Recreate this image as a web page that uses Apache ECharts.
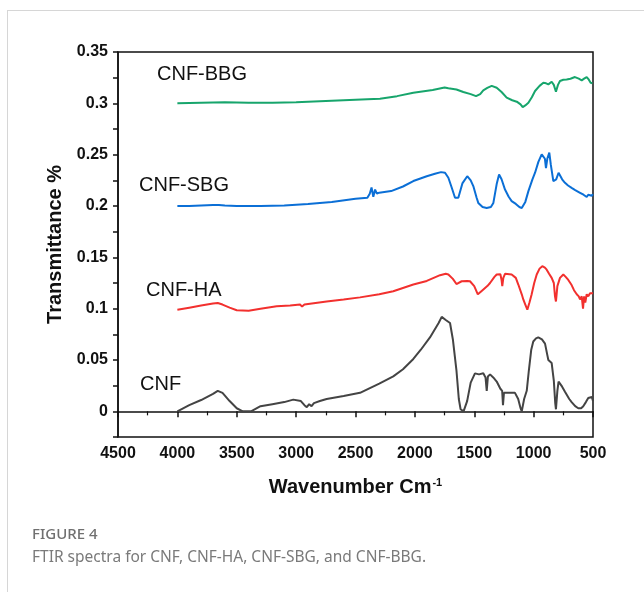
<!DOCTYPE html>
<html>
<head>
<meta charset="UTF-8" />
<title>FTIR spectra</title>
<script src="https://cdn.jsdelivr.net/npm/echarts@6/dist/echarts.min.js"></script>
<style>
    body { margin: 0; background: #fff; }
    #frame { position: absolute; left: 7px; top: 10px; width: 650px; height: 600px;
             border-top: 1px solid #d6d6d6; border-left: 1px solid #d6d6d6; }
    #main { position: absolute; left: 0; top: 0; width: 644px; height: 592px; }
</style>
</head>
<body>
<div id="frame"></div>
<div id="main"></div>
<script>
// wavenumbers (cm-1) and transmittance values
var cnfWave = [4000,3900,3800,3700,3660,3620,3560,3500,3450,3380,3300,3200,3100,3024,2960,2930,2910,2890,2870,2850,2800,2743,2600,2462,2300,2182,2100,2013,1950,1873,1800,1774,1740,1704,1680,1650,1630,1615,1590,1560,1530,1494,1460,1424,1405,1395,1385,1367,1340,1311,1280,1265,1258,1250,1200,1157,1130,1110,1100,1080,1058,1040,1020,1003,980,961,930,904,885,876,848,830,818,812,800,790,778,760,736,700,680,650,624,600,582,560,540,525,510,500];
var cnfT = [0.000,0.006,0.011,0.017,0.020,0.018,0.010,0.003,0.000,0.000,0.005,0.007,0.009,0.0114,0.010,0.006,0.004,0.007,0.005,0.008,0.010,0.012,0.015,0.018,0.027,0.034,0.041,0.051,0.060,0.072,0.086,0.092,0.089,0.086,0.070,0.040,0.012,0.002,0.000,0.010,0.028,0.037,0.036,0.037,0.033,0.020,0.034,0.036,0.033,0.029,0.022,0.020,0.006,0.018,0.018,0.018,0.012,0.003,0.000,0.012,0.020,0.040,0.060,0.068,0.071,0.072,0.070,0.066,0.055,0.050,0.047,0.030,0.008,0.002,0.020,0.029,0.029,0.024,0.019,0.012,0.009,0.005,0.003,0.003,0.005,0.009,0.013,0.012,0.014,0.010];

var haWave = [4000,3900,3800,3700,3660,3620,3560,3500,3400,3300,3164,3050,2967,2950,2930,2743,2600,2462,2300,2182,2013,1900,1788,1740,1718,1680,1650,1634,1606,1560,1536,1500,1470,1457,1440,1424,1390,1367,1330,1311,1280,1270,1264,1255,1241,1185,1150,1129,1100,1087,1070,1053,1035,1017,995,974,950,927,905,890,870,848,830,820,812,800,778,750,730,708,680,660,637,620,609,595,584,575,565,553,540,525,510,500];
var haT = [0.099,0.101,0.103,0.105,0.1055,0.104,0.101,0.0985,0.098,0.100,0.1024,0.103,0.104,0.102,0.104,0.107,0.109,0.111,0.114,0.117,0.1235,0.127,0.1326,0.134,0.1333,0.129,0.124,0.124,0.1267,0.127,0.1267,0.122,0.114,0.1135,0.117,0.1187,0.122,0.125,0.131,0.1333,0.1335,0.128,0.122,0.130,0.134,0.1333,0.130,0.1235,0.114,0.109,0.104,0.099,0.106,0.1138,0.125,0.1333,0.139,0.1414,0.140,0.138,0.134,0.130,0.125,0.112,0.107,0.122,0.130,0.1333,0.131,0.128,0.123,0.118,0.114,0.112,0.109,0.112,0.100,0.112,0.106,0.114,0.112,0.115,0.1144,0.115];

var sbgWave = [4000,3900,3800,3700,3650,3600,3500,3300,3100,2900,2700,2500,2400,2380,2365,2350,2335,2320,2300,2200,2100,2013,1900,1831,1780,1746,1730,1718,1690,1662,1634,1600,1559,1530,1508,1480,1466,1430,1395,1360,1339,1310,1291,1270,1241,1210,1185,1150,1120,1100,1070,1044,1010,988,960,932,918,905,896,885,868,855,834,810,790,778,760,736,710,680,650,609,580,553,540,525,510,500];
var sbgT = [0.200,0.200,0.2005,0.201,0.201,0.2005,0.200,0.200,0.2005,0.202,0.204,0.207,0.208,0.212,0.218,0.209,0.216,0.212,0.213,0.2145,0.219,0.2243,0.229,0.2314,0.233,0.2324,0.234,0.2275,0.218,0.208,0.208,0.222,0.229,0.225,0.2194,0.208,0.203,0.199,0.198,0.199,0.203,0.222,0.2307,0.226,0.216,0.209,0.2048,0.202,0.199,0.198,0.204,0.2145,0.226,0.2324,0.243,0.2503,0.252,0.246,0.237,0.246,0.252,0.240,0.2243,0.226,0.2324,0.232,0.226,0.2226,0.220,0.2177,0.2155,0.2129,0.211,0.2087,0.211,0.211,0.210,0.2115];

var bbgWave = [4000,3800,3600,3400,3200,3000,2800,2600,2400,2294,2150,2013,1850,1750,1718,1650,1592,1530,1485,1450,1424,1390,1353,1311,1270,1227,1180,1142,1110,1092,1070,1044,1015,988,950,918,895,876,848,830,812,795,778,750,722,690,652,620,595,575,553,535,520,505];
var bbgT = [0.300,0.3005,0.301,0.3005,0.3005,0.301,0.302,0.303,0.304,0.3045,0.307,0.3104,0.313,0.3155,0.3146,0.3135,0.311,0.309,0.307,0.309,0.3127,0.315,0.317,0.3152,0.311,0.3055,0.303,0.3016,0.299,0.2964,0.298,0.3006,0.306,0.312,0.317,0.320,0.3195,0.3185,0.321,0.318,0.3113,0.318,0.3218,0.323,0.3233,0.324,0.3256,0.324,0.3224,0.324,0.3256,0.323,0.320,0.3195];

var seriesNames = ['CNF', 'CNF-HA', 'CNF-SBG', 'CNF-BBG'];
var seriesColors = ['#444444', '#f2302e', '#0b6fd6', '#17a56c'];

function pairs(w, t) {
    var out = [];
    for (var i = 0; i < w.length; i++) out.push([w[i], t[i]]);
    return out;
}

var allData = [pairs(cnfWave, cnfT), pairs(haWave, haT), pairs(sbgWave, sbgT), pairs(bbgWave, bbgT)];
var labelPos = [[140, 385], [146, 291], [139, 186], [157, 75]];

var mySeries = [];
var myGraphic = [];
for (var i = 0; i < seriesNames.length; i++) {
    mySeries.push({
        name: seriesNames[i],
        type: 'line',
        data: allData[i],
        showSymbol: false,
        lineStyle: { color: seriesColors[i], width: 2 },
        itemStyle: { color: seriesColors[i] },
        animation: false
    });
    myGraphic.push({
        type: 'text', left: labelPos[i][0], top: labelPos[i][1] - 11,
        style: { text: seriesNames[i], font: '20px "Liberation Sans", Arial, sans-serif', fill: '#111' }
    });
}
myGraphic.push({
    type: 'text', left: 32, top: 527,
    style: { text: 'FIGURE 4', font: '500 15px "Noto Sans", sans-serif', fill: '#707070' }
});
myGraphic.push({
    type: 'text', left: 32, top: 550,
    style: { text: 'FTIR spectra for CNF, CNF-HA, CNF-SBG, and CNF-BBG.', font: '15.5px "Noto Sans", sans-serif', fill: '#7a7a7a' }
});

var axisFont = '"Liberation Sans", Arial, sans-serif';
var myChart = echarts.init(document.getElementById('main'));
myChart.setOption({
    animation: false,
    grid: { left: 118, right: 51, top: 52, bottom: 155, show: true, borderColor: '#111', borderWidth: 1.5 },
    xAxis: {
        type: 'value',
        inverse: true,
        min: 500, max: 4500, interval: 500,
        name: 'Wavenumber {s|Cm}{u|-1}',
        nameLocation: 'middle',
        nameGap: 40,
        nameTextStyle: {
            fontFamily: axisFont, fontWeight: 'bold', fontSize: 20, color: '#111',
            rich: {
                s: { fontFamily: axisFont, fontWeight: 'bold', fontSize: 20, color: '#111' },
                u: { fontFamily: axisFont, fontWeight: 'bold', fontSize: 11, color: '#111', verticalAlign: 'top', padding: [0, 0, 10, 1] }
            }
        },
        axisLine: { lineStyle: { color: '#111', width: 1.5 } },
        axisTick: { length: 6, lineStyle: { color: '#111', width: 1.5 } },
        minorTick: { show: true, splitNumber: 2, length: 4, lineStyle: { color: '#111', width: 1.2 } },
        axisLabel: {
            fontFamily: axisFont, fontWeight: 'bold', fontSize: 16, color: '#111', margin: 9,
            formatter: function(v) { return String(v); }
        },
        splitLine: { show: false }
    },
    yAxis: {
        type: 'value',
        min: -0.025, max: 0.35, interval: 0.025,
        name: 'Transmittance %',
        nameLocation: 'middle',
        nameGap: 48,
        nameTextStyle: { fontFamily: axisFont, fontWeight: 'bold', fontSize: 20, color: '#111' },
        axisLine: { lineStyle: { color: '#111', width: 1.5 } },
        axisTick: { length: 5, lineStyle: { color: '#111', width: 1.5 } },
        axisLabel: {
            fontFamily: axisFont, fontWeight: 'bold', fontSize: 16, color: '#111', margin: 10,
            formatter: function(v) {
                var k = Math.round(v / 0.025);
                if (k < 0 || k % 2 !== 0) return '';
                return String(parseFloat((k * 0.025).toFixed(3)));
            }
        },
        splitLine: { show: false }
    },
    series: mySeries,
    graphic: myGraphic
});
</script>
</body>
</html>
